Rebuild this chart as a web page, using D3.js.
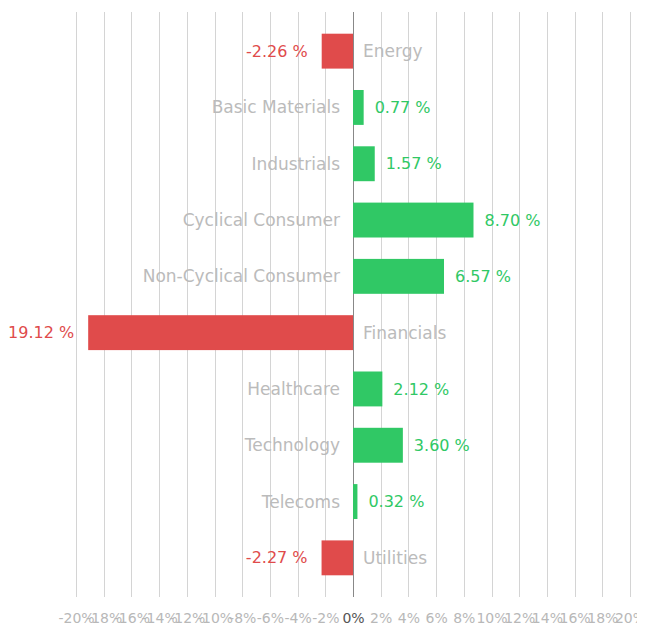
<!DOCTYPE html>
<html>
<head>
<meta charset="utf-8">
<script src="https://cdn.jsdelivr.net/npm/d3@7"></script>
<style>
  body { margin: 8px; background: #fff; }
  svg { overflow: hidden; display: block; font-family: "DejaVu Sans", sans-serif; }
</style>
</head>
<body>
<div id="chart"></div>
<script>
// 行业涨跌幅
const sectors = ['Energy', 'Basic Materials', 'Industrials', 'Cyclical Consumer', 'Non-Cyclical Consumer',
  'Financials', 'Healthcare', 'Technology', 'Telecoms', 'Utilities']
const changes = [-2.26, 0.77, 1.57, 8.70, 6.57, -19.12, 2.12, 3.60, 0.32, -2.27]
const tickValues = d3.range(-20, 21, 2)

const width = 637, height = 615
const up = '#30c865', down = '#e04b4b'

const svg = d3.select('#chart').append('svg')
  .attr('width', width)
  .attr('height', height)

const x = d3.scaleLinear().domain([-20, 20]).range([68, 622])
const y = d3.scaleBand().domain(sectors).range([15, 578]).paddingInner(0.38).paddingOuter(0.19)

// 网格线
svg.append('g')
  .selectAll('line')
  .data(tickValues)
  .join('line')
  .attr('x1', d => Math.round(x(d)) + 0.5)
  .attr('x2', d => Math.round(x(d)) + 0.5)
  .attr('y1', 4)
  .attr('y2', 589)
  .attr('stroke', d => d === 0 ? '#888' : '#d4d4d4')
  .attr('stroke-width', 1)

// 坐标轴刻度
const axis = svg.append('g')
  .attr('transform', 'translate(0,589)')
  .call(d3.axisBottom(x).tickValues(tickValues).tickSize(0).tickPadding(16).tickFormat(d => d + '%'))
axis.select('.domain').remove()
axis.selectAll('text')
  .attr('font-size', 14)
  .attr('font-family', '"DejaVu Sans", sans-serif')
  .attr('fill', d => d === 0 ? '#555' : '#b8b8b8')

const rows = sectors.map((s, i) => ({ name: s, value: changes[i] }))

svg.append('g')
  .selectAll('rect')
  .data(rows)
  .join('rect')
  .attr('x', d => x(Math.min(0, d.value)))
  .attr('y', d => y(d.name))
  .attr('width', d => Math.abs(x(d.value) - x(0)))
  .attr('height', y.bandwidth())
  .attr('fill', d => d.value < 0 ? down : up)

// 数值标签
svg.append('g')
  .selectAll('text')
  .data(rows)
  .join('text')
  .attr('x', d => d.value < 0 ? x(d.value) - 14 : x(d.value) + 11)
  .attr('y', d => y(d.name) + y.bandwidth() / 2)
  .attr('dy', '0.35em')
  .attr('text-anchor', d => d.value < 0 ? 'end' : 'start')
  .attr('font-size', 16)
  .attr('fill', d => d.value < 0 ? down : up)
  .text(d => d.value.toFixed(2) + ' %')

// 行业名称
svg.append('g')
  .selectAll('text')
  .data(rows)
  .join('text')
  .attr('x', d => d.value < 0 ? x(0) + 10 : x(0) - 13)
  .attr('y', d => y(d.name) + y.bandwidth() / 2)
  .attr('dy', '0.35em')
  .attr('text-anchor', d => d.value < 0 ? 'start' : 'end')
  .attr('font-size', 17)
  .attr('fill', '#bbbbbb')
  .text(d => d.name)
</script>
</body>
</html>
